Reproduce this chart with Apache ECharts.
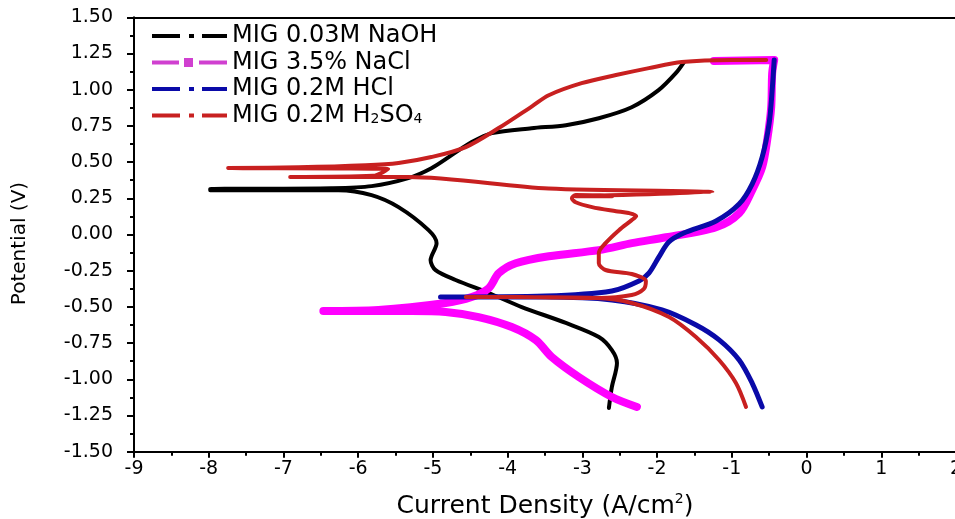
<!DOCTYPE html>
<html>
<head>
<meta charset="utf-8">
<script src="https://cdn.jsdelivr.net/npm/echarts@6/dist/echarts.min.js"></script>
<style>
html,body{margin:0;padding:0;background:#fff;}
#chart{width:955px;height:519px;}
</style>
</head>
<body>
<div id="chart"></div>
<script>
// Potentiodynamic polarization data: [log current density, potential]
const seriesNames = ['MIG 0.03M NaOH', 'MIG 3.5% NaCl', 'MIG 0.2M HCl', 'MIG 0.2M H2SO4'];
const xTicks = { min: -9, max: 2, step: 1 };
const yTicks = { min: -1.5, max: 1.5, step: 0.25 };

const naoh = [
  [-2.645,-1.198],[-2.605,-1.053],[-2.537,-0.887],[-2.605,-0.798],[-2.779,-0.708],
  [-3.221,-0.611],[-3.811,-0.501],[-4.253,-0.404],[-4.696,-0.314],[-4.964,-0.246],
  [-5.031,-0.177],[-4.951,-0.060],[-5.058,0.030],[-5.460,0.189],[-5.821,0.272],
  [-6.264,0.306],[-6.800,0.306],[-7.98,0.306],
  [-7.98,0.313],[-6.36,0.320],[-5.82,0.334],[-5.33,0.389],[-5.02,0.458],[-4.75,0.548],
  [-4.48,0.638],[-4.21,0.700],[-3.68,0.734],[-3.22,0.755],[-2.78,0.803],[-2.34,0.879],
  [-1.98,0.997],[-1.75,1.114],[-1.64,1.191]
];
const nacl = [
  [-2.27,-1.191],[-2.605,-1.122],[-3.048,-0.984],[-3.410,-0.846],[-3.623,-0.729],
  [-3.945,-0.639],[-4.388,-0.570],[-4.830,-0.535],[-5.286,-0.528],[-5.729,-0.528],
  [-6.466,-0.528],
  [-5.729,-0.521],[-4.830,-0.473],[-4.481,-0.432],[-4.253,-0.371],[-4.119,-0.267],
  [-3.891,-0.198],[-3.449,-0.150],[-2.779,-0.108],[-2.337,-0.060],[-1.881,-0.019],
  [-1.211,0.050],[-0.902,0.147],[-0.728,0.306],[-0.594,0.465],[-0.527,0.651],
  [-0.473,0.879],[-0.460,1.114],[-0.433,1.205],[-1.24,1.198]
];
const hcl = [
  [-0.594,-1.191],[-0.728,-1.026],[-0.902,-0.867],[-1.170,-0.728],[-1.478,-0.625],
  [-1.934,-0.521],[-2.605,-0.452],[-3.490,-0.432],[-4.898,-0.432],
  [-3.49,-0.425],[-2.605,-0.390],[-2.243,-0.321],[-2.11,-0.267],[-1.977,-0.156],
  [-1.843,-0.052],[-1.642,0.010],[-1.211,0.093],[-0.902,0.210],[-0.728,0.348],
  [-0.594,0.534],[-0.500,0.769],[-0.460,0.997],[-0.433,1.205]
];
const h2so4 = [
  [-0.81,-1.191],[-0.945,-1.026],[-1.17,-0.867],[-1.48,-0.708],[-1.84,-0.570],
  [-2.34,-0.473],[-2.82,-0.439],[-3.94,-0.432],[-4.56,-0.432],
  [-3.85,-0.432],[-2.78,-0.439],[-2.34,-0.418],[-2.18,-0.377],[-2.15,-0.322],
  [-2.34,-0.273],[-2.69,-0.245],[-2.78,-0.198],[-2.78,-0.129],[-2.69,-0.060],
  [-2.51,0.030],[-2.34,0.099],[-2.28,0.128],[-2.38,0.148],[-2.55,0.161],
  [-2.87,0.189],[-3.09,0.223],[-3.14,0.251],[-3.09,0.272],[-2.60,0.265],
  [-3.09,0.265],[-1.26,0.293],[-3.45,0.318],[-5.33,0.397],[-6.91,0.397],
  [-5.80,0.405],[-5.60,0.452],[-7.74,0.459],
  [-6.80,0.464],[-5.90,0.478],[-5.46,0.494],[-5.02,0.535],[-4.56,0.604],
  [-4.12,0.735],[-3.67,0.887],[-3.45,0.962],[-3.01,1.045],[-2.55,1.101],
  [-2.11,1.149],[-1.67,1.191],[-1.00,1.205],[-0.54,1.205]
];

const colors = ['#000000', '#ff00ff', '#0a0aa8', '#c82020'];
const widths = [4, 8, 5, 4];
const dataSets = [naoh, nacl, hcl, h2so4];

const dashDot = 'path://M0,0M75,9M0,2.5H28V6.5H0Z M37,2.5H42V6.5H37Z M50,2.5H75V6.5H50Z';
const dashSquare = 'path://M0,0M75,9M0,2.5H27V6.5H0Z M32,0H41V9H32Z M47,2.5H75V6.5H47Z';

const chart = echarts.init(document.getElementById('chart'), null, {renderer: 'canvas'});
const FONT = 'DejaVu Sans';

chart.setOption({
  animation: false,
  backgroundColor: '#ffffff',
  grid: { left: 134, right: -1, top: 17.3, bottom: 67.3, containLabel: false, outerBoundsMode: 'none' },
  legend: {
    left: 147, top: 19, orient: 'vertical',
    itemWidth: 75, itemHeight: 9, itemGap: 2.5,
    textStyle: {
      fontFamily: FONT, fontSize: 24, color: '#000', lineHeight: 22,
      rich: { sub: { fontFamily: FONT, fontSize: 14, verticalAlign: 'bottom', padding: [11,0,0,0], color: '#000' } }
    },
    formatter: function (name) {
      if (name === 'MIG 0.2M H2SO4') return 'MIG 0.2M H{sub|2}SO{sub|4}';
      return name;
    },
    data: seriesNames.map((n, i) => ({ name: n, icon: i === 1 ? dashSquare : dashDot,
      itemStyle: { color: i === 1 ? '#d040d0' : colors[i] } }))
  },
  xAxis: [{
    type: 'value', min: xTicks.min, max: xTicks.max, interval: xTicks.step,
    position: 'bottom',
    name: 'Current Density (A/cm{sup|2})', nameLocation: 'middle', nameGap: 41,
    nameTextStyle: { fontFamily: FONT, fontSize: 25, color: '#000',
      rich: { sup: { fontFamily: FONT, fontSize: 14, verticalAlign: 'top', padding: [0,0,13,0], color: '#000' } } },
    axisLine: { show: true, onZero: false, lineStyle: { color: '#000', width: 2 } },
    axisTick: { show: true, inside: false, length: 6, lineStyle: { color: '#000', width: 2 } },
    minorTick: { show: true, splitNumber: 2, length: 4, lineStyle: { color: '#000', width: 2 } },
    axisLabel: { fontFamily: FONT, fontSize: 19, color: '#000', margin: 8,
      formatter: v => String(v) },
    splitLine: { show: false }
  }, {
    type: 'value', min: xTicks.min, max: xTicks.max, position: 'top',
    axisLine: { show: true, onZero: false, lineStyle: { color: '#000', width: 2 } },
    axisTick: { show: false }, axisLabel: { show: false }, splitLine: { show: false }
  }],
  yAxis: [{
    type: 'value', min: yTicks.min, max: yTicks.max, interval: yTicks.step,
    name: 'Potential (V)', nameLocation: 'middle', nameGap: 104,
    nameTextStyle: { fontFamily: FONT, fontSize: 20, color: '#000', padding: [0, 18, 0, 0] },
    axisLine: { show: true, onZero: false, lineStyle: { color: '#000', width: 2 } },
    axisTick: { show: true, inside: false, length: 7, lineStyle: { color: '#000', width: 2 } },
    minorTick: { show: true, splitNumber: 2, length: 4, lineStyle: { color: '#000', width: 2 } },
    axisLabel: { fontFamily: FONT, fontSize: 19, color: '#000', margin: 21,
      formatter: v => v.toFixed(2) },
    splitLine: { show: false }
  }],
  series: dataSets.map((d, i) => ({
    name: seriesNames[i], type: 'line', data: d,
    xAxisIndex: 0, yAxisIndex: 0,
    showSymbol: false, symbol: 'none', smooth: 0.3,
    color: colors[i],
    lineStyle: { color: colors[i], width: widths[i], cap: 'round', join: 'round' },
    z: 2 + i
  }))
});
</script>
</body>
</html>
